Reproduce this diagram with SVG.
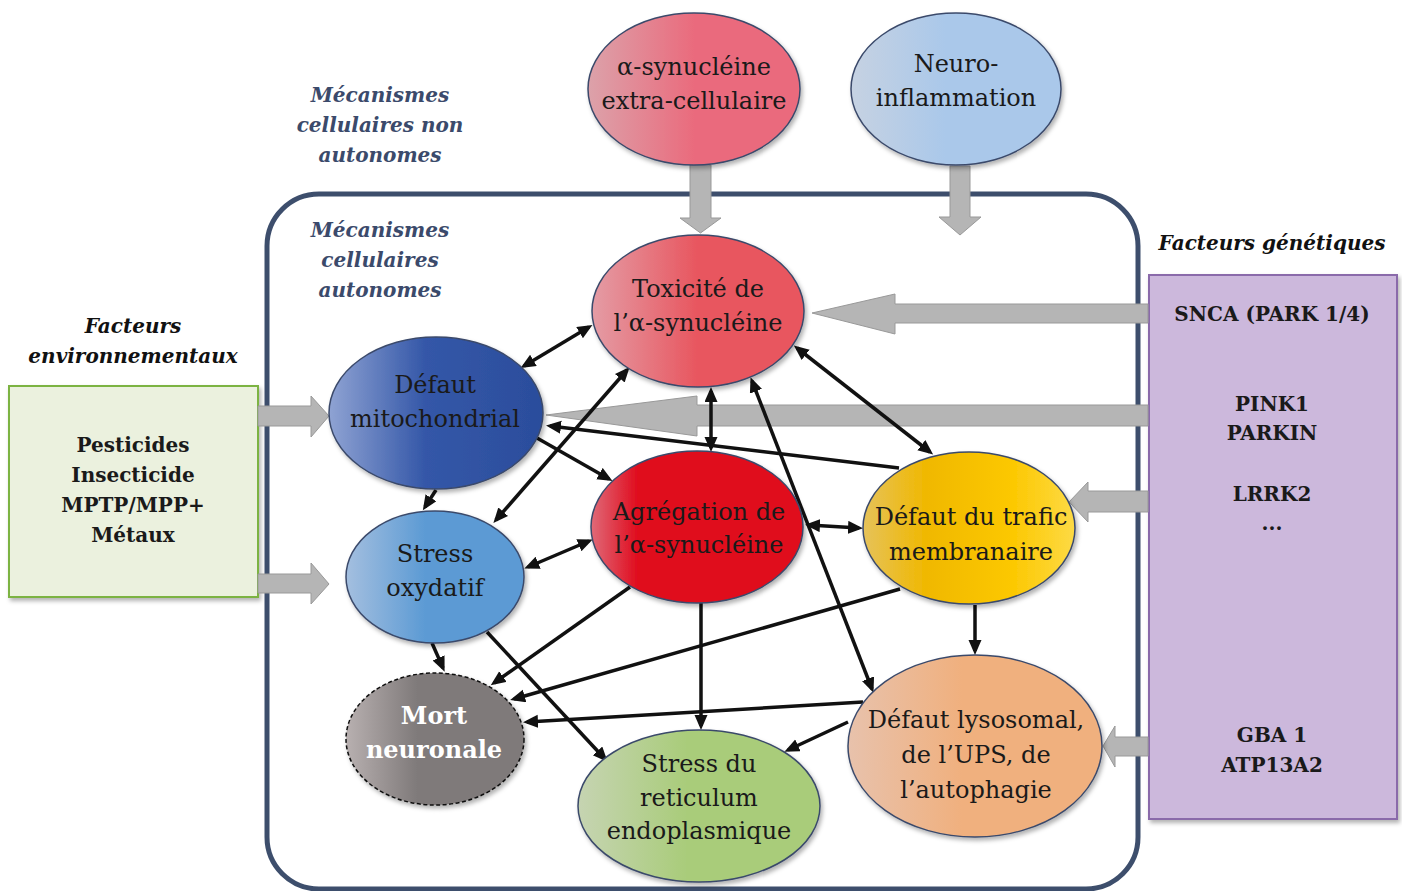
<svg xmlns="http://www.w3.org/2000/svg" width="1402" height="891" viewBox="0 0 1402 891">
<defs>
<style>
.n{font-family:"DejaVu Serif","Liberation Serif",serif;font-size:24px;fill:#1a1a1a;text-anchor:middle}
.b{font-family:"DejaVu Serif","Liberation Serif",serif;font-size:20px;font-weight:bold;fill:#1a1a1a;text-anchor:middle}
.i{font-family:"DejaVu Serif","Liberation Serif",serif;font-size:20px;font-weight:bold;font-style:italic;text-anchor:middle}
.lab{fill:#3b4a6b}
.lab2{fill:#111}
.el{stroke:#3b4a6b;stroke-width:1.5;filter:url(#sh)}
.ga{fill:#b5b5b5;stroke:#999;stroke-width:1}
.c{stroke:#111;stroke-width:3.5;fill:none}
.d1{marker-end:url(#ah)}
.d2{marker-start:url(#ah);marker-end:url(#ah)}
</style>
<filter id="sh" x="-10%" y="-10%" width="125%" height="125%">
<feDropShadow dx="2" dy="3" stdDeviation="2" flood-color="#000" flood-opacity="0.3"/>
</filter>
<marker id="ah" markerUnits="userSpaceOnUse" markerWidth="16" markerHeight="14" refX="11" refY="6.5" orient="auto-start-reverse">
<path d="M0,0 L15,6.5 L0,13 z" fill="#111"/>
</marker>
<linearGradient id="gExt" x1="0" y1="0" x2="1" y2="0"><stop offset="0" stop-color="#dca2aa"/><stop offset="0.5" stop-color="#ea6b7d"/><stop offset="1" stop-color="#ea6b7d"/></linearGradient>
<linearGradient id="gNeu" x1="0" y1="0" x2="1" y2="0"><stop offset="0" stop-color="#c6d2e2"/><stop offset="0.45" stop-color="#aac8ea"/><stop offset="1" stop-color="#aac8ea"/></linearGradient>
<linearGradient id="gTox" x1="0" y1="0" x2="1" y2="0"><stop offset="0" stop-color="#e49ca5"/><stop offset="0.5" stop-color="#e8565f"/><stop offset="1" stop-color="#e8565f"/></linearGradient>
<linearGradient id="gMit" x1="0" y1="0" x2="1" y2="0"><stop offset="0" stop-color="#8fa3d3"/><stop offset="0.45" stop-color="#3457a8"/><stop offset="1" stop-color="#2b4d9c"/></linearGradient>
<linearGradient id="gOxy" x1="0" y1="0" x2="1" y2="0"><stop offset="0" stop-color="#a4bfdf"/><stop offset="0.45" stop-color="#5b9ad4"/><stop offset="1" stop-color="#5b9ad4"/></linearGradient>
<linearGradient id="gAgr" x1="0" y1="0" x2="1" y2="0"><stop offset="0" stop-color="#e06a78"/><stop offset="0.22" stop-color="#e00c1e"/><stop offset="1" stop-color="#e00c1e"/></linearGradient>
<linearGradient id="gTra" x1="0" y1="0" x2="1" y2="0"><stop offset="0" stop-color="#e6c25a"/><stop offset="0.3" stop-color="#f0b800"/><stop offset="0.7" stop-color="#fcc800"/><stop offset="1" stop-color="#fdda45"/></linearGradient>
<linearGradient id="gMor" x1="0" y1="0" x2="1" y2="0"><stop offset="0" stop-color="#b8b0b0"/><stop offset="0.4" stop-color="#7f7a7a"/><stop offset="1" stop-color="#7f7a7a"/></linearGradient>
<linearGradient id="gER" x1="0" y1="0" x2="1" y2="0"><stop offset="0" stop-color="#c6d4b2"/><stop offset="0.45" stop-color="#a9cc7a"/><stop offset="1" stop-color="#a9cc7a"/></linearGradient>
<linearGradient id="gLys" x1="0" y1="0" x2="1" y2="0"><stop offset="0" stop-color="#e8c2ac"/><stop offset="0.45" stop-color="#f0b07e"/><stop offset="1" stop-color="#f0b07e"/></linearGradient>
</defs>
<rect width="1402" height="891" fill="#fff"/>

<g id="container">
<rect x="267" y="194" width="871" height="695" rx="52" ry="52" fill="none" stroke="#3d4e6c" stroke-width="5"/>
</g>

<g id="labels">
<text class="i lab" x="380" y="102">Mécanismes</text>
<text class="i lab" x="380" y="132">cellulaires non</text>
<text class="i lab" x="380" y="162">autonomes</text>
<text class="i lab" x="380" y="237">Mécanismes</text>
<text class="i lab" x="380" y="267">cellulaires</text>
<text class="i lab" x="380" y="297">autonomes</text>
<text class="i lab2" x="133" y="333">Facteurs</text>
<text class="i lab2" x="133" y="363">environnementaux</text>
<text class="i lab2" x="1272" y="250">Facteurs génétiques</text>
</g>

<g id="env-box">
<rect x="9" y="386" width="249" height="211" fill="#ebf1de" stroke="#7cb342" stroke-width="2" filter="url(#sh)"/>
<text class="b" x="133" y="452">Pesticides</text>
<text class="b" x="133" y="482">Insecticide</text>
<text class="b" x="133" y="512">MPTP/MPP+</text>
<text class="b" x="133" y="542">Métaux</text>
</g>

<g id="gen-box">
<rect x="1149" y="275" width="248" height="544" fill="#ccb8dc" stroke="#8a6aaa" stroke-width="2" filter="url(#sh)"/>
<text class="b" x="1272" y="321">SNCA (PARK 1/4)</text>
<text class="b" x="1272" y="411">PINK1</text>
<text class="b" x="1272" y="440">PARKIN</text>
<text class="b" x="1272" y="501">LRRK2</text>
<text class="b" x="1272" y="530">...</text>
<text class="b" x="1272" y="742">GBA 1</text>
<text class="b" x="1272" y="772">ATP13A2</text>
</g>

<g id="block-arrows">
<polygon class="ga" points="690,165 711,165 711,218 721,218 700.5,233 680,218 690,218"/>
<polygon class="ga" points="950,166 970,166 970,217 981,217 960,235 939,217 950,217"/>
<polygon class="ga" points="258,406 311,406 311,396 329,416 311,437 311,426 258,426"/>
<polygon class="ga" points="258,574 311,574 311,563 329,584 311,604 311,593 258,593"/>
<polygon class="ga" points="1148,304 895,304 895,294 812,313 895,334 895,323 1148,323"/>
<polygon class="ga" points="1148,405 697,405 697,396 546,415 697,436 697,426 1148,426"/>
<polygon class="ga" points="1148,491 1088,491 1088,482 1069,502 1088,522 1088,512 1148,512"/>
<polygon class="ga" points="1148,737 1115,737 1115,726 1103,746 1115,767 1115,756 1148,756"/>
</g>

<g id="connectors">
<line class="c d2" x1="524" y1="366" x2="589" y2="327"/>
<line class="c d2" x1="496" y1="520" x2="627" y2="370"/>
<line class="c d2" x1="711" y1="391" x2="711" y2="448"/>
<line class="c d2" x1="797" y1="348" x2="930" y2="452"/>
<line class="c d2" x1="752" y1="381" x2="872" y2="689"/>
<line class="c d1" x1="899" y1="468" x2="550" y2="426"/>
<line class="c d1" x1="537" y1="438" x2="609" y2="479"/>
<line class="c d1" x1="436" y1="490" x2="425" y2="507"/>
<line class="c d2" x1="528" y1="567" x2="589" y2="541"/>
<line class="c d2" x1="809" y1="525" x2="859" y2="528"/>
<line class="c d1" x1="975" y1="605" x2="975" y2="651"/>
<line class="c d1" x1="432" y1="643" x2="443" y2="668"/>
<line class="c d1" x1="487" y1="632" x2="605" y2="759"/>
<line class="c d1" x1="630" y1="587" x2="494" y2="683"/>
<line class="c d1" x1="900" y1="589" x2="514" y2="699"/>
<line class="c d1" x1="701" y1="603" x2="701" y2="726"/>
<line class="c d1" x1="863" y1="702" x2="527" y2="722"/>
<line class="c d1" x1="848" y1="722" x2="788" y2="750"/>
</g>

<g id="node-ext">
<ellipse class="el" cx="694" cy="89" rx="106" ry="76" fill="url(#gExt)"/>
<text class="n" x="694" y="75">α-synucléine</text>
<text class="n" x="694" y="109">extra-cellulaire</text>
</g>
<g id="node-neuro">
<ellipse class="el" cx="956" cy="89" rx="105" ry="76" fill="url(#gNeu)"/>
<text class="n" x="956" y="72">Neuro-</text>
<text class="n" x="956" y="106">inflammation</text>
</g>
<g id="node-tox">
<ellipse class="el" cx="698" cy="311" rx="106" ry="76" fill="url(#gTox)"/>
<text class="n" x="698" y="297">Toxicité de</text>
<text class="n" x="698" y="331">l’α-synucléine</text>
</g>
<g id="node-mito">
<ellipse class="el" cx="436" cy="413" rx="107" ry="76" fill="url(#gMit)"/>
<text class="n" x="435" y="393">Défaut</text>
<text class="n" x="435" y="427">mitochondrial</text>
</g>
<g id="node-oxy">
<ellipse class="el" cx="435" cy="577" rx="89" ry="66" fill="url(#gOxy)"/>
<text class="n" x="435" y="562">Stress</text>
<text class="n" x="435" y="596">oxydatif</text>
</g>
<g id="node-agr">
<ellipse class="el" cx="697" cy="527" rx="106" ry="76" fill="url(#gAgr)"/>
<text class="n" x="699" y="520">Agrégation de</text>
<text class="n" x="699" y="553">l’α-synucléine</text>
</g>
<g id="node-trafic">
<ellipse class="el" cx="969" cy="528" rx="106" ry="76" fill="url(#gTra)"/>
<text class="n" x="971" y="525">Défaut du trafic</text>
<text class="n" x="971" y="560">membranaire</text>
</g>
<g id="node-mort">
<ellipse cx="435" cy="739" rx="89" ry="66" fill="url(#gMor)" stroke="#111" stroke-width="1.5" stroke-dasharray="4 2.5" filter="url(#sh)"/>
<text class="b" x="434" y="724" style="fill:#fff;font-size:24px">Mort</text>
<text class="b" x="434" y="758" style="fill:#fff;font-size:24px">neuronale</text>
</g>
<g id="node-er">
<ellipse class="el" cx="699" cy="806" rx="121" ry="76" fill="url(#gER)"/>
<text class="n" x="699" y="772">Stress du</text>
<text class="n" x="699" y="806">reticulum</text>
<text class="n" x="699" y="839">endoplasmique</text>
</g>
<g id="node-lys">
<ellipse class="el" cx="975" cy="746" rx="127" ry="91" fill="url(#gLys)"/>
<text class="n" x="976" y="728">Défaut lysosomal,</text>
<text class="n" x="976" y="763">de l’UPS, de</text>
<text class="n" x="976" y="798">l’autophagie</text>
</g>
</svg>
